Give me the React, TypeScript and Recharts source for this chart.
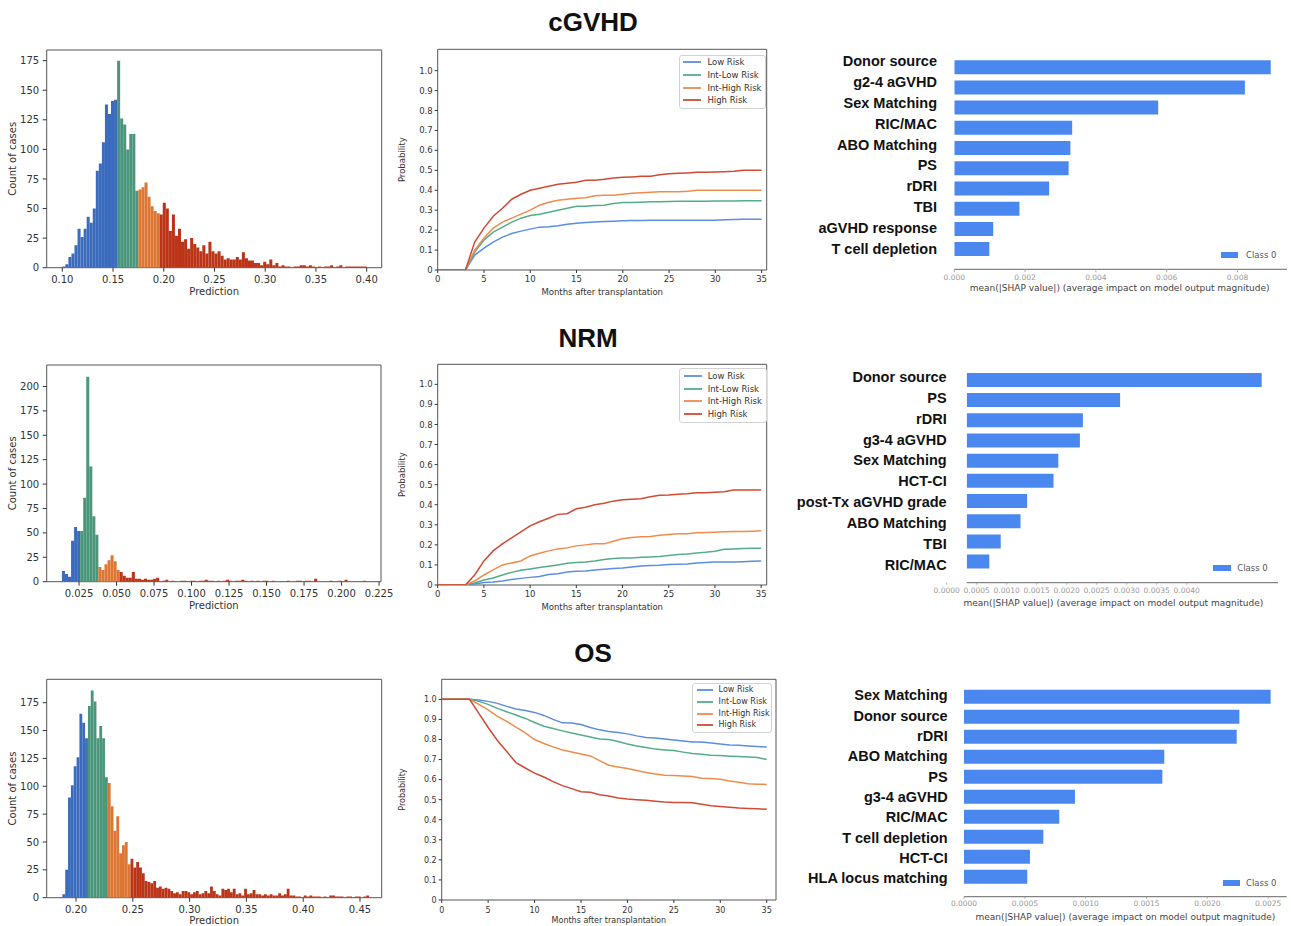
import React from 'react';
import { BarChart, Bar, XAxis, YAxis, Cell, ReferenceArea, LineChart, Line, Legend } from 'recharts';

const FONT = '"DejaVu Sans", sans-serif';
const BOLD_FONT = '"Liberation Sans", Arial, sans-serif';

// ---------------- data ----------------
const panelTitles = ['cGVHD', 'NRM', 'OS'];
const riskNames = ['Low Risk', 'Int-Low Risk', 'Int-High Risk', 'High Risk'];

// Histograms of predictions (bin start, bin width, counts, risk-group cut-offs)
const cgvhdBinStart = 0.1;
const cgvhdBinWidth = 0.003;
const cgvhdHistCounts = [
  1, 3, 9, 12, 19, 33, 26, 33, 43, 38, 50, 82, 88, 106, 138, 130, 141, 142,
  175, 126, 121, 100, 113, 113, 65,
  66, 68, 72, 60, 52, 48, 46,
  45, 55, 50, 31, 45, 27, 33, 22, 24, 16, 25, 20, 17, 14, 19, 12, 22, 14, 12, 14,
  10, 7, 8, 7, 7, 9, 7, 13, 8, 6, 6, 4, 4, 2, 5, 3, 7, 2, 4, 1,
  2, 1, 1, 0, 1, 1, 2, 2, 1, 2, 1, 0, 1, 0, 1, 1, 2, 0, 1, 2,
  0, 1, 1, 1, 1, 1, 1, 1,
];
const cgvhdCutoffs = [0.1545, 0.1745, 0.1955];
const cgvhdHistTicks = [0.1, 0.15, 0.2, 0.25, 0.3, 0.35, 0.4];
const cgvhdCountTicks = [0, 25, 50, 75, 100, 125, 150, 175];

const nrmBinStart = 0.0136;
const nrmBinWidth = 0.002026;
const nrmHistCounts = [
  11, 8, 5, 42, 56, 52, 52, 86, 210, 118,
  67, 48, 15, 12, 18, 22, 27, 21, 12, 10,
  6, 4, 4, 10, 3, 3, 2, 3, 2, 2,
  3, 4, 0, 1, 2, 0, 1, 0, 0, 1,
  1, 0, 1, 1, 0, 1, 1, 2, 1, 1,
  0, 1, 0, 1, 2, 1, 0, 1, 1, 2,
  1, 0, 1, 0, 1, 0, 1, 1, 0, 1,
  0, 0, 0, 0, 1, 0, 0, 1, 1, 0,
  1, 1, 0, 3, 0, 0, 0, 0, 1, 0,
  0, 1, 0, 2, 0, 0, 0, 0, 0, 1,
];
const nrmCutoffs = [0.0258, 0.0379, 0.052];
const nrmHistTicks = [0.025, 0.05, 0.075, 0.1, 0.125, 0.15, 0.175, 0.2, 0.225];
const nrmCountTicks = [0, 25, 50, 75, 100, 125, 150, 175, 200];

const osBinStart = 0.188;
const osBinWidth = 0.0025;
const osHistCounts = [
  3, 25, 90, 101, 118, 126, 165, 157, 143,
  172, 186, 176, 143, 154, 143, 108,
  103, 82, 60, 73, 40, 47, 50, 30,
  35, 27, 32, 27, 22, 15, 14, 13, 15, 9,
  10, 8, 9, 8, 6, 4, 5, 3, 6, 6,
  5, 3, 5, 6, 3, 4, 6, 4, 10, 6,
  3, 2, 8, 7, 8, 5, 8, 3, 4, 2,
  8, 3, 4, 7, 3, 3, 2, 3, 2, 3,
  2, 2, 4, 2, 3, 8, 2, 2, 1, 1,
  0, 2, 1, 2, 1, 1, 1, 0, 1, 0,
  2, 2, 1, 1, 1, 0, 1, 1, 0, 1,
  1, 0, 1, 2,
];
const osCutoffs = [0.2105, 0.228, 0.248];
const osHistTicks = [0.2, 0.25, 0.3, 0.35, 0.4, 0.45];
const osCountTicks = [0, 25, 50, 75, 100, 125, 150, 175];

// Cumulative incidence / survival curves by month
const months = [0, 1, 2, 3, 4, 5, 6, 7, 8, 9, 10, 11, 12, 13, 14, 15, 16, 17, 18, 19, 20, 21, 22, 23, 24, 25, 26, 27, 28, 29, 30, 31, 32, 33, 34, 35];
const monthTicks = [0, 5, 10, 15, 20, 25, 30, 35];
const probTicks = [0, 0.1, 0.2, 0.3, 0.4, 0.5, 0.6, 0.7, 0.8, 0.9, 1.0];

const cgvhdLow = [0, 0, 0, 0, 0.075, 0.11, 0.14, 0.165, 0.183, 0.195, 0.205, 0.215, 0.217, 0.222, 0.23, 0.235, 0.238, 0.241, 0.243, 0.245, 0.247, 0.248, 0.248, 0.249, 0.249, 0.25, 0.25, 0.25, 0.25, 0.25, 0.25, 0.252, 0.253, 0.254, 0.255, 0.255];
const cgvhdIntLow = [0, 0, 0, 0, 0.09, 0.15, 0.19, 0.215, 0.24, 0.26, 0.273, 0.28, 0.29, 0.3, 0.31, 0.32, 0.32, 0.323, 0.325, 0.333, 0.338, 0.338, 0.34, 0.342, 0.342, 0.343, 0.345, 0.345, 0.345, 0.345, 0.346, 0.346, 0.346, 0.347, 0.347, 0.347];
const cgvhdIntHigh = [0, 0, 0, 0, 0.1, 0.16, 0.21, 0.24, 0.26, 0.28, 0.3, 0.325, 0.34, 0.35, 0.355, 0.36, 0.363, 0.372, 0.375, 0.375, 0.38, 0.385, 0.388, 0.39, 0.392, 0.393, 0.393, 0.395, 0.4, 0.4, 0.4, 0.4, 0.4, 0.4, 0.4, 0.4];
const cgvhdHigh = [0, 0, 0, 0, 0.14, 0.21, 0.27, 0.31, 0.355, 0.38, 0.4, 0.41, 0.42, 0.43, 0.435, 0.44, 0.45, 0.45, 0.455, 0.462, 0.465, 0.467, 0.47, 0.47, 0.478, 0.483, 0.485, 0.487, 0.49, 0.49, 0.492, 0.493, 0.495, 0.5, 0.5, 0.5];

const nrmLow = [0, 0, 0, 0, 0.005, 0.012, 0.015, 0.02, 0.028, 0.033, 0.038, 0.042, 0.052, 0.056, 0.065, 0.068, 0.07, 0.075, 0.078, 0.082, 0.085, 0.09, 0.095, 0.097, 0.098, 0.102, 0.103, 0.105, 0.11, 0.112, 0.115, 0.115, 0.115, 0.116, 0.118, 0.12];
const nrmIntLow = [0, 0, 0, 0, 0.01, 0.025, 0.035, 0.05, 0.063, 0.073, 0.08, 0.087, 0.093, 0.1, 0.108, 0.112, 0.115, 0.12, 0.127, 0.132, 0.135, 0.135, 0.138, 0.14, 0.142, 0.147, 0.152, 0.155, 0.16, 0.163, 0.168, 0.178, 0.18, 0.182, 0.183, 0.183];
const nrmIntHigh = [0, 0, 0, 0, 0.02, 0.05, 0.075, 0.1, 0.11, 0.12, 0.145, 0.158, 0.17, 0.18, 0.185, 0.195, 0.2, 0.205, 0.205, 0.218, 0.23, 0.237, 0.24, 0.242, 0.248, 0.252, 0.255, 0.255, 0.26, 0.262, 0.263, 0.265, 0.267, 0.267, 0.268, 0.27];
const nrmHigh = [0, 0, 0, 0, 0.05, 0.12, 0.17, 0.205, 0.235, 0.265, 0.295, 0.315, 0.333, 0.352, 0.355, 0.38, 0.388, 0.4, 0.408, 0.418, 0.425, 0.428, 0.43, 0.44, 0.447, 0.448, 0.452, 0.455, 0.46, 0.46, 0.462, 0.465, 0.473, 0.473, 0.473, 0.473];

const osLow = [1, 1, 1, 1, 0.997, 0.99, 0.98, 0.965, 0.952, 0.945, 0.935, 0.92, 0.9, 0.883, 0.882, 0.875, 0.86, 0.848, 0.84, 0.835, 0.828, 0.818, 0.81, 0.807, 0.803, 0.798, 0.793, 0.788, 0.787, 0.783, 0.777, 0.772, 0.771, 0.768, 0.765, 0.762];
const osIntLow = [1, 1, 1, 1, 0.99, 0.975, 0.955, 0.938, 0.922, 0.905, 0.885, 0.866, 0.855, 0.843, 0.832, 0.822, 0.812, 0.802, 0.8, 0.79, 0.778, 0.768, 0.76, 0.752, 0.748, 0.745, 0.737, 0.73, 0.726, 0.722, 0.72, 0.717, 0.715, 0.713, 0.71, 0.7];
const osIntHigh = [1, 1, 1, 1, 0.975, 0.948, 0.915, 0.89, 0.862, 0.833, 0.8, 0.78, 0.763, 0.748, 0.738, 0.728, 0.718, 0.695, 0.672, 0.663, 0.655, 0.645, 0.636, 0.628, 0.622, 0.62, 0.618, 0.615, 0.607, 0.606, 0.602, 0.593, 0.587, 0.58, 0.577, 0.576];
const osHigh = [1, 1, 1, 1, 0.93, 0.86, 0.795, 0.74, 0.685, 0.658, 0.632, 0.613, 0.59, 0.57, 0.555, 0.54, 0.537, 0.525, 0.518, 0.508, 0.503, 0.5, 0.497, 0.492, 0.488, 0.486, 0.486, 0.485, 0.477, 0.47, 0.466, 0.462, 0.458, 0.456, 0.455, 0.452];

// SHAP feature importances
const cgvhdFeatures = ['Donor source', 'g2-4 aGVHD', 'Sex Matching', 'RIC/MAC', 'ABO Matching', 'PS', 'rDRI', 'TBI', 'aGVHD response', 'T cell depletion'];
const cgvhdShap = [0.00894, 0.00821, 0.00576, 0.00333, 0.00328, 0.00323, 0.00268, 0.00184, 0.0011, 0.00099];
const cgvhdShapTicks = [0, 0.002, 0.004, 0.006, 0.008];

const nrmFeatures = ['Donor source', 'PS', 'rDRI', 'g3-4 aGVHD', 'Sex Matching', 'HCT-CI', 'post-Tx aGVHD grade', 'ABO Matching', 'TBI', 'RIC/MAC'];
const nrmShap = [0.00525, 0.00289, 0.00227, 0.00222, 0.00186, 0.00178, 0.00134, 0.00123, 0.0009, 0.00071];
const nrmShapTicks = [0, 0.0005, 0.001, 0.0015, 0.002, 0.0025, 0.003, 0.0035, 0.004];

const osFeatures = ['Sex Matching', 'Donor source', 'rDRI', 'ABO Matching', 'PS', 'g3-4 aGVHD', 'RIC/MAC', 'T cell depletion', 'HCT-CI', 'HLA locus matching'];
const osShap = [0.00252, 0.002263, 0.002241, 0.001646, 0.00163, 0.000912, 0.000783, 0.000652, 0.000542, 0.00052];
const osShapTicks = [0, 0.0005, 0.001, 0.0015, 0.002, 0.0025];

// ---------------- styles ----------------
const HIST_COLORS = ['#3a6bbd', '#4a967b', '#dd7533', '#bb3417'];
const LINE_COLORS = ['#5b8ee0', '#54ad88', '#f08b4c', '#d04a35'];
const SHAP_BLUE = '#4a88f0';
const FRAME = '#555';
const TXT = '#333';

type Box = { left: number; top: number; width: number; height: number };
type Frame = { x0: number; x1: number; y0: number; y1: number };

function Hist(props: {
  box: Box; frame: Frame; counts: number[]; binStart: number; binWidth: number; cutoffs: number[];
  xDomain: number[]; xTicks: number[]; xDigits: number; yMax: number; yTicks: number[];
  xLabelOffset: number;
}) {
  const { box, frame, counts, binStart, binWidth, cutoffs, xDomain, xTicks, xDigits, yMax, yTicks, xLabelOffset } = props;
  const yW = 40;
  const xH = 30;
  const data = counts.map((c, i) => ({ x: binStart + binWidth * (i + 0.5), count: c }));
  const margin = {
    left: frame.x0 - box.left - yW,
    top: frame.y0 - box.top,
    right: box.left + box.width - frame.x1,
    bottom: box.top + box.height - frame.y1 - xH,
  };
  // bar width must stay just under the band size or recharts shrinks it to 90%
  const barPx = (binWidth / (xDomain[1] - xDomain[0])) * (frame.x1 - frame.x0) * 0.995;
  const groupOf = (x: number) => cutoffs.filter((c) => x > c).length;
  const tickStyle = { fontSize: 10, fill: TXT, fontFamily: FONT };
  return (
    <div style={{ position: 'absolute', left: box.left, top: box.top }}>
      <BarChart width={box.width} height={box.height} data={data} margin={margin} barCategoryGap={0} barGap={0}>
        <XAxis
          dataKey="x" type="number" domain={xDomain} allowDataOverflow ticks={xTicks} interval={0}
          tickFormatter={(v: number) => v.toFixed(xDigits)} height={xH} axisLine={false}
          tickLine={{ stroke: TXT }} tickSize={4} tickMargin={3.7} tick={tickStyle}
          label={{ value: 'Prediction', position: 'insideBottom', offset: xLabelOffset, style: tickStyle }}
        />
        <YAxis
          type="number" domain={[0, yMax]} allowDataOverflow ticks={yTicks} interval={0} width={yW}
          axisLine={false} tickLine={{ stroke: TXT }} tickSize={4} tickMargin={3.5} tick={tickStyle}
          label={{ value: 'Count of cases', angle: -90, position: 'insideLeft', offset: 12 - (box.left + margin.left), style: { ...tickStyle, textAnchor: 'middle' } }}
        />
        <Bar dataKey="count" barSize={barPx} isAnimationActive={false}>
          {data.map((d, i) => (
            <Cell key={i} fill={HIST_COLORS[groupOf(d.x)]} />
          ))}
        </Bar>
        <ReferenceArea x1={xDomain[0]} x2={xDomain[1]} y1={0} y2={yMax} fill="none" stroke={FRAME} strokeWidth={1} ifOverflow="visible" />
      </BarChart>
    </div>
  );
}

type LegendGeo = { left: number; top: number; width: number; height: number; firstY: number; step: number; lineX0: number; lineX1: number; textX: number; fontSize: number };

function RiskLegend({ geo }: { geo: LegendGeo }) {
  return (
    <div style={{ position: 'relative', width: geo.width, height: geo.height, border: '1px solid #d2d2d2', borderRadius: 3, boxSizing: 'border-box', background: 'rgba(255,255,255,0.85)' }}>
      {riskNames.map((name, i) => (
        <div key={name} style={{ position: 'absolute', left: 0, top: Math.round(geo.firstY + i * geo.step) - 7, height: 12, width: '100%' }}>
          <div style={{ position: 'absolute', left: Math.round(geo.lineX0), width: Math.round(geo.lineX1 - geo.lineX0), top: 5, height: 2, background: LINE_COLORS[i], opacity: 0.9 }} />
          <span style={{ position: 'absolute', left: geo.textX, top: 0, lineHeight: '12px', fontSize: geo.fontSize, fontFamily: FONT, color: TXT, whiteSpace: 'nowrap' }}>{name}</span>
        </div>
      ))}
    </div>
  );
}

function Surv(props: {
  box: Box; frame: Frame; series: number[][]; xMax: number; yMax: number; fontSize: number;
  yW: number; tickMarginX: number; xLabelOffset: number; yLabelX: number; legend: LegendGeo;
}) {
  const { box, frame, series, xMax, yMax, fontSize, yW, tickMarginX, xLabelOffset, yLabelX, legend } = props;
  const xH = 30;
  const data = months.map((m, i) => ({ m, low: series[0][i], intLow: series[1][i], intHigh: series[2][i], high: series[3][i] }));
  const margin = {
    left: frame.x0 - box.left - yW,
    top: frame.y0 - box.top,
    right: box.left + box.width - frame.x1,
    bottom: box.top + box.height - frame.y1 - xH,
  };
  const tickStyle = { fontSize, fill: TXT, fontFamily: FONT };
  const keys = ['low', 'intLow', 'intHigh', 'high'];
  return (
    <div style={{ position: 'absolute', left: box.left, top: box.top }}>
      <LineChart width={box.width} height={box.height} data={data} margin={margin}>
        <XAxis
          dataKey="m" type="number" domain={[0, xMax]} allowDataOverflow ticks={monthTicks} interval={0}
          height={xH} axisLine={false} tickLine={{ stroke: TXT }} tickSize={3} tickMargin={tickMarginX} tick={tickStyle}
          label={{ value: 'Months after transplantation', position: 'insideBottom', offset: xLabelOffset, style: tickStyle }}
        />
        <YAxis
          type="number" domain={[0, yMax]} allowDataOverflow ticks={probTicks} interval={0} width={yW}
          tickFormatter={(v: number) => (v === 0 ? '0' : v.toFixed(1))}
          axisLine={false} tickLine={{ stroke: TXT }} tickSize={3} tickMargin={2} tick={tickStyle}
          label={{ value: 'Probability', angle: -90, position: 'insideLeft', offset: yLabelX - (box.left + margin.left), style: { ...tickStyle, textAnchor: 'middle' } }}
        />
        <ReferenceArea x1={0} x2={xMax} y1={0} y2={yMax} fill="none" stroke={FRAME} strokeWidth={1} ifOverflow="visible" />
        {keys.map((k, i) => (
          <Line key={k} dataKey={k} name={riskNames[i]} type="linear" stroke={LINE_COLORS[i]} strokeWidth={1.5} dot={false} isAnimationActive={false} />
        ))}
        <Legend
          layout="vertical" align="center" verticalAlign="middle"
          wrapperStyle={{ left: Math.round(legend.left - box.left), top: Math.round(legend.top - box.top), width: legend.width, height: legend.height }}
          content={() => <RiskLegend geo={legend} />}
        />
      </LineChart>
    </div>
  );
}

type ShapLegendGeo = { rectLeft: number; rectWidth: number; textLeft: number; cy: number };
type LabelGeo = { firstY: number; step: number };

function ShapTick(props: any) {
  const { x, index, payload, labelGeo, boxTop } = props;
  const cy = labelGeo.firstY + index * labelGeo.step - boxTop;
  return (
    <text x={x} y={cy + 14.5 * 0.355} textAnchor="end" fontSize={14.5} fontWeight={700} fill="#111" fontFamily={BOLD_FONT}>
      {payload.value}
    </text>
  );
}

function Shap(props: {
  box: Box; frame: Frame; padBottom: number; names: string[]; values: number[]; xDomain: number[];
  xTicks: number[]; xDigits: number; labelGap: number; tickSize: number; tickMargin: number; xLabelOffset: number;
  xLabelDx: number; legend: ShapLegendGeo; labelGeo: LabelGeo;
}) {
  const { box, frame, padBottom, names, values, xDomain, xTicks, xDigits, labelGap, tickSize, tickMargin, xLabelOffset, xLabelDx, legend, labelGeo } = props;
  const xH = 30;
  const yW = frame.x0 - box.left;
  const data = names.map((n, i) => ({ name: n, value: values[i] }));
  const margin = {
    left: 0,
    top: frame.y0 - box.top,
    right: box.left + box.width - frame.x1,
    bottom: box.top + box.height - frame.y1 - xH,
  };
  return (
    <div style={{ position: 'absolute', left: box.left, top: box.top }}>
      <BarChart layout="vertical" width={box.width} height={box.height} data={data} margin={margin}>
        <XAxis
          type="number" domain={xDomain} allowDataOverflow ticks={xTicks} interval={0}
          tickFormatter={(v: number) => v.toFixed(xDigits)} height={xH}
          axisLine={{ stroke: '#666' }} tickLine={{ stroke: '#aaa' }} tickSize={tickSize} tickMargin={tickMargin}
          tick={{ fontSize: 7.5, fill: '#999', fontFamily: FONT }}
          label={{ value: 'mean(|SHAP value|) (average impact on model output magnitude)', position: 'insideBottom', offset: xLabelOffset, dx: xLabelDx, style: { fontSize: 9, fill: '#444', fontFamily: FONT } }}
        />
        <YAxis
          type="category" dataKey="name" width={yW} axisLine={false} tickLine={false} tickSize={0}
          tickMargin={labelGap} interval={0} padding={{ top: 0, bottom: padBottom }}
          tick={<ShapTick labelGeo={labelGeo} boxTop={box.top} />}
        />
        <Bar dataKey="value" name="Class 0" fill={SHAP_BLUE} barSize={14} isAnimationActive={false} />
        <Legend
          layout="vertical" align="center" verticalAlign="middle"
          wrapperStyle={{ left: legend.rectLeft - box.left, top: legend.cy - 6 - box.top, width: 70, height: 12 }}
          content={() => (
            <div style={{ position: 'relative', height: 12, width: 70 }}>
              <div style={{ position: 'absolute', left: 0, top: 3, width: legend.rectWidth, height: 6, background: SHAP_BLUE }} />
              <span style={{ position: 'absolute', left: legend.textLeft - legend.rectLeft, top: 0, lineHeight: '12px', fontSize: 8.5, fontFamily: FONT, color: '#555', whiteSpace: 'nowrap' }}>Class 0</span>
            </div>
          )}
        />
      </BarChart>
    </div>
  );
}

const titlePos = [
  { cx: 593, top: 9 },
  { cx: 588, top: 325 },
  { cx: 593, top: 640 },
];

export default function App() {
  return (
    <div style={{ position: 'absolute', left: 0, top: 0, width: 1291, height: 926, background: '#fff', overflow: 'hidden' }}>
      {panelTitles.map((t, i) => (
        <div key={t} style={{ position: 'absolute', left: titlePos[i].cx - 100, top: titlePos[i].top, width: 200, textAlign: 'center', fontFamily: BOLD_FONT, fontWeight: 700, fontSize: 26, lineHeight: '26px', color: '#111' }}>{t}</div>
      ))}

      {/* Row 1: cGVHD */}
      <Hist
        box={{ left: 0, top: 40, width: 395, height: 270 }} frame={{ x0: 46.7, x1: 381.7, y0: 50, y1: 267.7 }}
        counts={cgvhdHistCounts} binStart={cgvhdBinStart} binWidth={cgvhdBinWidth} cutoffs={cgvhdCutoffs}
        xDomain={[0.0846, 0.4148]} xTicks={cgvhdHistTicks} xDigits={2} yMax={184} yTicks={cgvhdCountTicks} xLabelOffset={2.5}
      />
      <Surv
        box={{ left: 395, top: 40, width: 385, height: 270 }} frame={{ x0: 437.7, x1: 766.7, y0: 49.3, y1: 270 }}
        series={[cgvhdLow, cgvhdIntLow, cgvhdIntHigh, cgvhdHigh]} xMax={35.55} yMax={1.107} fontSize={8.5}
        yW={36} tickMarginX={3.3} xLabelOffset={5} yLabelX={402}
        legend={{ left: 679.3, top: 55, width: 87, height: 54, firstY: 7.3, step: 12.7, lineX0: 3.4, lineX1: 21.7, textX: 27.4, fontSize: 8.5 }}
      />
      <Shap
        box={{ left: 780, top: 40, width: 511, height: 270 }} frame={{ x0: 954.3, x1: 1287, y0: 57.2, y1: 269.3 }} padBottom={10}
        names={cgvhdFeatures} values={cgvhdShap} xDomain={[0, 0.0094]} xTicks={cgvhdShapTicks} xDigits={3}
        labelGap={17.3} tickSize={3} tickMargin={2.7} xLabelOffset={8} xLabelDx={-1}
        legend={{ rectLeft: 1220.7, rectWidth: 17.6, textLeft: 1246, cy: 255 }}
        labelGeo={{ firstY: 60.8, step: 20.9 }}
      />

      {/* Row 2: NRM */}
      <Hist
        box={{ left: 0, top: 355, width: 395, height: 270 }} frame={{ x0: 46.7, x1: 381, y0: 365, y1: 581.7 }}
        counts={nrmHistCounts} binStart={nrmBinStart} binWidth={nrmBinWidth} cutoffs={nrmCutoffs}
        xDomain={[0.00344, 0.2263]} xTicks={nrmHistTicks} xDigits={3} yMax={222} yTicks={nrmCountTicks} xLabelOffset={2.5}
      />
      <Surv
        box={{ left: 395, top: 355, width: 385, height: 270 }} frame={{ x0: 437.7, x1: 766.7, y0: 364.3, y1: 585 }}
        series={[nrmLow, nrmIntLow, nrmIntHigh, nrmHigh]} xMax={35.6} yMax={1.1} fontSize={8.5}
        yW={36} tickMarginX={3.3} xLabelOffset={5.3} yLabelX={402}
        legend={{ left: 679, top: 368, width: 88, height: 55, firstY: 7.7, step: 12.8, lineX0: 3.7, lineX1: 22, textX: 27.7, fontSize: 8.5 }}
      />
      <Shap
        box={{ left: 780, top: 355, width: 511, height: 270 }} frame={{ x0: 966.7, x1: 1278, y0: 369.9, y1: 582.7 }} padBottom={10.9}
        names={nrmFeatures} values={nrmShap} xDomain={[0.000333, 0.005522]} xTicks={nrmShapTicks} xDigits={4}
        labelGap={20} tickSize={2} tickMargin={2.6} xLabelOffset={7} xLabelDx={-9}
        legend={{ rectLeft: 1213.3, rectWidth: 17.4, textLeft: 1237.3, cy: 568.3 }}
        labelGeo={{ firstY: 376.7, step: 20.9 }}
      />

      {/* Row 3: OS */}
      <Hist
        box={{ left: 0, top: 670, width: 395, height: 260 }} frame={{ x0: 46.7, x1: 381.7, y0: 679.3, y1: 897.7 }}
        counts={osHistCounts} binStart={osBinStart} binWidth={osBinWidth} cutoffs={osCutoffs}
        xDomain={[0.1742, 0.4691]} xTicks={osHistTicks} xDigits={2} yMax={196} yTicks={osCountTicks} xLabelOffset={3.5}
      />
      <Surv
        box={{ left: 395, top: 670, width: 390, height: 260 }} frame={{ x0: 441.7, x1: 776, y0: 679.3, y1: 900 }}
        series={[osLow, osIntLow, osIntHigh, osHigh]} xMax={36} yMax={1.1} fontSize={8}
        yW={40} tickMarginX={4.2} xLabelOffset={7} yLabelX={402}
        legend={{ left: 691.7, top: 682.7, width: 80, height: 50, firstY: 7.3, step: 11.7, lineX0: 4.3, lineX1: 20, textX: 25.6, fontSize: 8 }}
      />
      <Shap
        box={{ left: 780, top: 670, width: 511, height: 260 }} frame={{ x0: 964, x1: 1286.7, y0: 686.7, y1: 896.7 }} padBottom={10}
        names={osFeatures} values={osShap} xDomain={[0, 0.002652]} xTicks={osShapTicks} xDigits={4}
        labelGap={16.3} tickSize={2} tickMargin={1.6} xLabelOffset={7} xLabelDx={0}
        legend={{ rectLeft: 1222.7, rectWidth: 17.3, textLeft: 1246, cy: 883.3 }}
        labelGeo={{ firstY: 695, step: 20.37 }}
      />
    </div>
  );
}
